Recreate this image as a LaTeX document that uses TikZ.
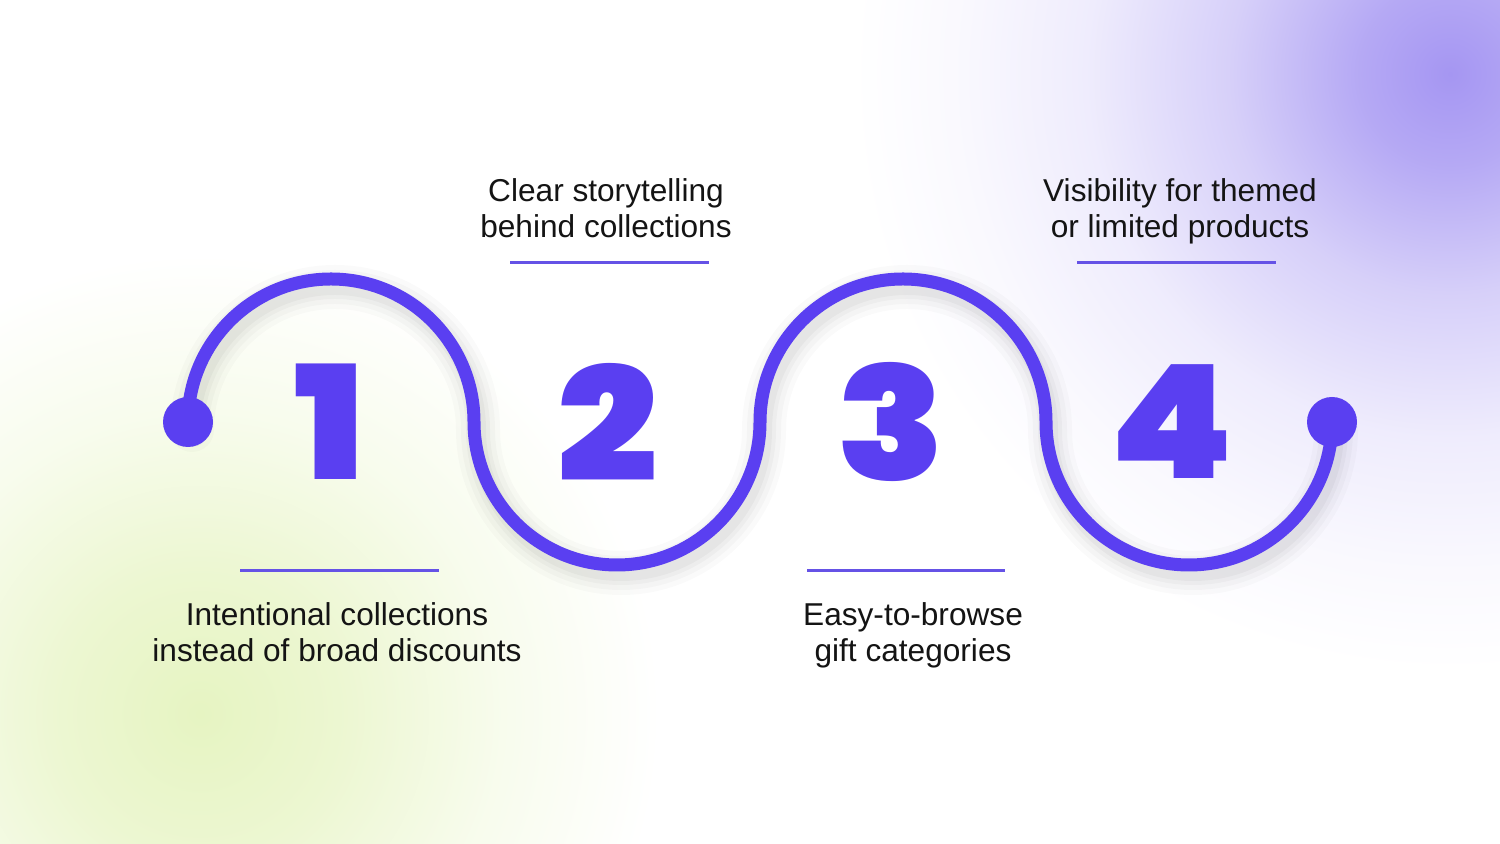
\documentclass[tikz,border=0pt]{standalone}
\usepackage{fontspec}
\setmainfont{Liberation Sans}
\newfontfamily\numfont{Poppins Black}
\definecolor{brand}{HTML}{5A3FF1}
\definecolor{rulec}{HTML}{6552E6}
\definecolor{glowP}{HTML}{A596F2}
\definecolor{glowG}{HTML}{E6F4C2}
\pgfdeclareradialshading{purpglow}{\pgfpoint{0bp}{0bp}}{color(0bp)=(glowP); color(3.5bp)=(glowP!82!white); color(8.5bp)=(glowP!45!white); color(14bp)=(glowP!18!white); color(19bp)=(glowP!6!white); color(23bp)=(white); color(50bp)=(white)}
\pgfdeclareradialshading{greenglow}{\pgfpoint{0bp}{0bp}}{color(0bp)=(glowG); color(7bp)=(glowG!75!white); color(15bp)=(glowG!30!white); color(23bp)=(white); color(50bp)=(white)}
\tikzset{
  wave/.style={draw=brand, line width=13*0.02cm, line cap=round},
  dot/.style={circle, fill=brand, minimum size=50*0.02cm, inner sep=0pt},
  num/.style={text=brand, font=\numfont\fontsize{90pt}{90pt}\selectfont, inner sep=0pt, xscale=1.12},
  label/.style={align=center, font=\fontsize{18pt}{20.5pt}\selectfont, text=black!92, inner sep=0pt},
  rule/.style={draw=rulec, line width=3*0.02cm}
}
\begin{document}
\begin{tikzpicture}[x=0.02cm,y=0.02cm]
\useasboundingbox (0,0) rectangle (1500,844);
\begin{scope}
\clip (0,0) rectangle (1500,844);
\fill[white] (0,0) rectangle (1500,844);
\shade[shading=greenglow] (200,130) circle (10cm);
\shade[shading=purpglow] (1450,770) circle (13cm);
\end{scope}
% shadow of the wave
\foreach \w/\o in {44/0.018, 34/0.022, 24/0.026, 16/0.03}{
  \draw[line width=\w*0.02cm, draw=black, opacity=\o, line cap=round]
    (192,414) arc[start angle=180,end angle=0,radius=143]
    arc[start angle=180,end angle=360,radius=143]
    arc[start angle=180,end angle=0,radius=143]
    arc[start angle=180,end angle=360,radius=143];
}
% wave
\coordinate (s) at (188,422);
\coordinate (e) at (1332,422);
\draw[wave] (s)
  arc[start angle=180,end angle=0,radius=143]
  arc[start angle=180,end angle=360,radius=143]
  arc[start angle=180,end angle=0,radius=143]
  arc[start angle=180,end angle=360,radius=143];
\node[dot] (d1) at (s) {};
\node[dot] (d2) at (e) {};
% numbers
\node[num] (n1) at (330,422) {1};
\node[num] (n2) at (608,422) {2};
\node[num] (n3) at (891,422) {3};
\node[num] (n4) at (1172,422) {4};
% rules
\coordinate (r1a) at (240,273); \coordinate (r1b) at (439,273);
\coordinate (r2a) at (510,581); \coordinate (r2b) at (709,581);
\coordinate (r3a) at (807,273); \coordinate (r3b) at (1005,273);
\coordinate (r4a) at (1077,581); \coordinate (r4b) at (1276,581);
\draw[rule] (r1a) -- (r1b);
\draw[rule] (r2a) -- (r2b);
\draw[rule] (r3a) -- (r3b);
\draw[rule] (r4a) -- (r4b);
% labels
\node[label] (t1) at (337,212) {Intentional collections\\instead of broad discounts};
\node[label] (t2) at (606,636) {Clear storytelling\\behind collections};
\node[label] (t3) at (913,209) {Easy-to-browse\\gift categories};
\node[label] (t4) at (1180,633) {Visibility for themed\\or limited products};
\end{tikzpicture}
\end{document}
